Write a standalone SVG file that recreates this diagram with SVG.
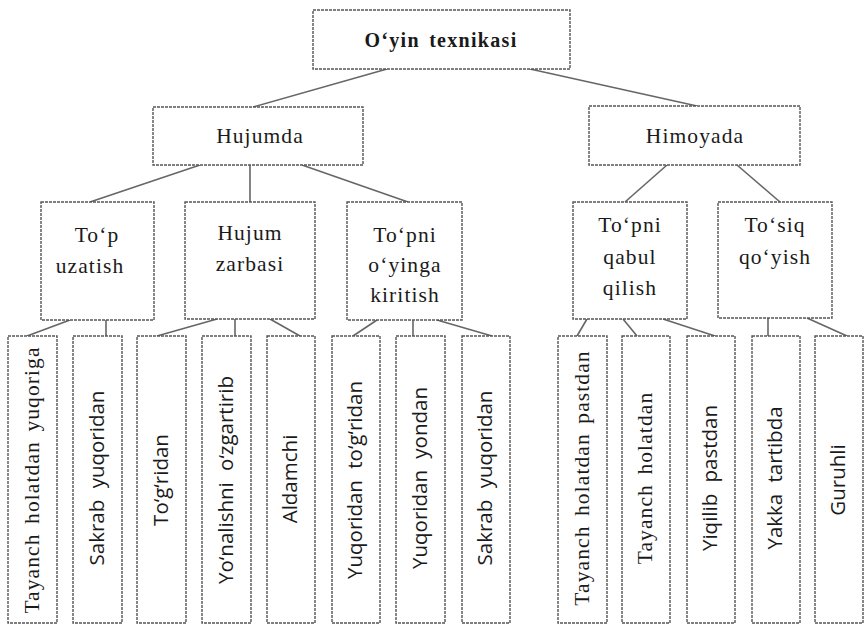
<svg xmlns="http://www.w3.org/2000/svg" width="865" height="626" viewBox="0 0 865 626">
<style>
.box{fill:#fff;stroke:#555;stroke-width:1.4;stroke-dasharray:3 1}
.ln{stroke:#666;stroke-width:1.6;fill:none}
.t{font-family:"Liberation Serif","Times New Roman",serif;font-size:21.5px;fill:#1a1a1a;text-anchor:middle;letter-spacing:1.1px;word-spacing:3px}
.title{font-weight:bold;font-size:20px;letter-spacing:1.3px}
.s{font-family:"Open Sans","Noto Sans",sans-serif;font-size:20.5px;fill:#1a1a1a;text-anchor:middle;word-spacing:6px}
</style>
<rect width="865" height="626" fill="#fff"/>
<g id="connectors">
<line class="ln" x1="387" y1="69" x2="253" y2="107"/>
<line class="ln" x1="530" y1="69" x2="697" y2="106"/>
<line class="ln" x1="200" y1="165" x2="90" y2="202"/>
<line class="ln" x1="250" y1="165" x2="250" y2="202"/>
<line class="ln" x1="302" y1="165" x2="408" y2="202"/>
<line class="ln" x1="667" y1="165" x2="625" y2="202"/>
<line class="ln" x1="737" y1="165" x2="780" y2="202"/>
<line class="ln" x1="70" y1="320" x2="27" y2="336"/>
<line class="ln" x1="106" y1="320" x2="106" y2="336"/>
<line class="ln" x1="217" y1="319" x2="157" y2="336"/>
<line class="ln" x1="235" y1="319" x2="235" y2="336"/>
<line class="ln" x1="270" y1="319" x2="300" y2="336"/>
<line class="ln" x1="377" y1="320" x2="353" y2="336"/>
<line class="ln" x1="413" y1="320" x2="413" y2="336"/>
<line class="ln" x1="437" y1="320" x2="492" y2="336"/>
<line class="ln" x1="587" y1="319" x2="577" y2="336"/>
<line class="ln" x1="623" y1="319" x2="637" y2="336"/>
<line class="ln" x1="663" y1="319" x2="715" y2="336"/>
<line class="ln" x1="768" y1="318" x2="768" y2="336"/>
<line class="ln" x1="807" y1="318" x2="847" y2="336"/>
</g>
<g id="root"><rect class="box" x="313" y="10" width="257" height="59"/><text class="t title" x="441" y="47">O‘yin  texnikasi</text></g>
<g id="hujumda"><rect class="box" x="153" y="107" width="210" height="58"/><text class="t" x="260" y="143">Hujumda</text></g>
<g id="himoyada"><rect class="box" x="589" y="106" width="211" height="59"/><text class="t" x="695" y="143">Himoyada</text></g>
<g id="top-uzatish"><rect class="box" x="41" y="202" width="113" height="118"/><text class="t" x="97" y="242">To‘p</text><text class="t" x="90" y="273">uzatish</text></g>
<g id="hujum-zarbasi"><rect class="box" x="185" y="202" width="130" height="117"/><text class="t" x="250" y="240">Hujum</text><text class="t" x="250" y="271">zarbasi</text></g>
<g id="topni-oyinga"><rect class="box" x="347" y="202" width="115" height="118"/><text class="t" x="405" y="242">To‘pni</text><text class="t" x="405" y="272">o‘yinga</text><text class="t" x="405" y="302">kiritish</text></g>
<g id="topni-qabul"><rect class="box" x="573" y="202" width="114" height="117"/><text class="t" x="630" y="232">To‘pni</text><text class="t" x="630" y="264">qabul</text><text class="t" x="630" y="295">qilish</text></g>
<g id="tosiq"><rect class="box" x="718" y="202" width="114" height="116"/><text class="t" x="775" y="232">To‘siq</text><text class="t" x="775" y="264">qo‘yish</text></g>
<g id="leaf1"><rect class="box" x="8" y="336" width="49" height="287"/><text class="t" transform="translate(32.5,480) rotate(-90)" x="0" y="6">Tayanch holatdan yuqoriga</text></g>
<g id="leaf2"><rect class="box" x="73" y="336" width="49" height="287"/><text class="s" transform="translate(97.5,478) rotate(-90)" x="0" y="6">Sakrab yuqoridan</text></g>
<g id="leaf3"><rect class="box" x="137" y="336" width="49" height="287"/><text class="s" transform="translate(161.5,480) rotate(-90)" x="0" y="6">To‘g‘ridan</text></g>
<g id="leaf4"><rect class="box" x="202" y="336" width="49" height="287"/><text class="s" transform="translate(226.5,480) rotate(-90)" x="0" y="6">Yo‘nalishni o‘zgartirib</text></g>
<g id="leaf5"><rect class="box" x="267" y="336" width="48" height="287"/><text class="s" transform="translate(291,479) rotate(-90)" x="0" y="6">Aldamchi</text></g>
<g id="leaf6"><rect class="box" x="332" y="336" width="48" height="287"/><text class="s" transform="translate(356,480) rotate(-90)" x="0" y="6">Yuqoridan to‘g‘ridan</text></g>
<g id="leaf7"><rect class="box" x="396" y="336" width="49" height="287"/><text class="s" transform="translate(420.5,478) rotate(-90)" x="0" y="6">Yuqoridan yondan</text></g>
<g id="leaf8"><rect class="box" x="462" y="336" width="48" height="287"/><text class="s" transform="translate(486,478) rotate(-90)" x="0" y="6">Sakrab yuqoridan</text></g>
<g id="leaf9"><rect class="box" x="558" y="336" width="49" height="287"/><text class="t" transform="translate(582.5,478) rotate(-90)" x="0" y="6">Tayanch holatdan pastdan</text></g>
<g id="leaf10"><rect class="box" x="622" y="336" width="48" height="287"/><text class="t" transform="translate(646,478) rotate(-90)" x="0" y="6">Tayanch holatdan</text></g>
<g id="leaf11"><rect class="box" x="687" y="336" width="48" height="287"/><text class="s" transform="translate(711,478) rotate(-90)" x="0" y="6">Yiqilib pastdan</text></g>
<g id="leaf12"><rect class="box" x="752" y="336" width="48" height="287"/><text class="s" transform="translate(776,478) rotate(-90)" x="0" y="6">Yakka tartibda</text></g>
<g id="leaf13"><rect class="box" x="815" y="336" width="48" height="287"/><text class="s" transform="translate(839,480) rotate(-90)" x="0" y="6">Guruhli</text></g>
</svg>
